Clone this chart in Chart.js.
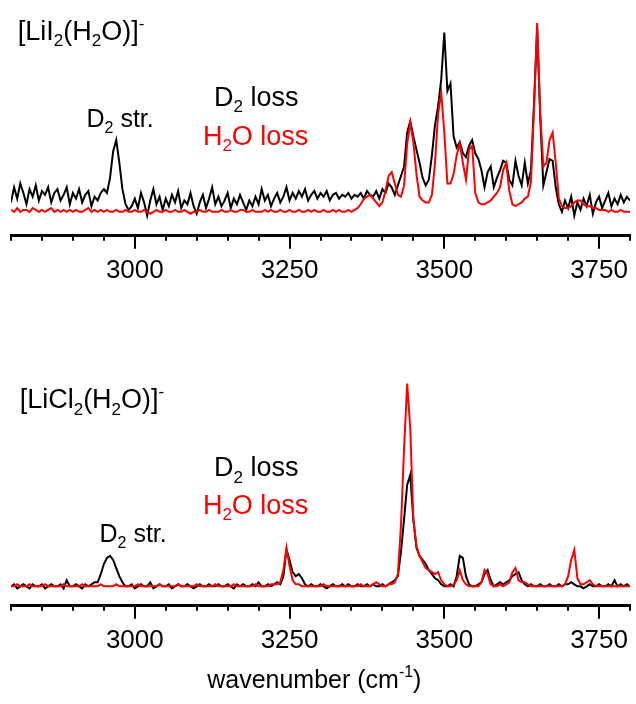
<!DOCTYPE html>
<html>
<head>
<meta charset="utf-8">
<script src="https://cdn.jsdelivr.net/npm/chart.js@4"></script>
<style>
html, body { margin: 0; padding: 0; background: #fff; }
#wrap { position: relative; width: 636px; height: 704px; }
.panel { position: absolute; left: 0; width: 636px; }
#top { top: 0; height: 300px; }
#bottom { top: 300px; height: 404px; }
</style>
</head>
<body>
<div id="wrap">
  <div class="panel" id="top"><canvas id="lii2"></canvas></div>
  <div class="panel" id="bottom"><canvas id="licl2"></canvas></div>
</div>
<script>
// spectra sampled every 5 cm-1 from 2800 to 3800
var waveMin = 2800;
var waveMax = 3800;
var waveStep = 5;
var tickStep = 50;
var labelStep = 250;

// [LiI2(H2O)]- , D2 loss channel
var liiD2Loss = [
  0.05, 0.13, 0.07, 0.15, 0.10, 0.04, 0.12, 0.08, 0.14, 0.06,
  0.11, 0.09, 0.13, 0.05, 0.10, 0.12, 0.06, 0.09, 0.13, 0.04,
  0.10, 0.07, 0.12, 0.05, 0.09, 0.11, 0.03, 0.08, 0.06, 0.10,
  0.12, 0.10, 0.18, 0.32, 0.38, 0.26, 0.12, 0.04, 0.01, 0.03,
  0.07, 0.02, 0.10, 0.05, -0.02, 0.06, 0.12, 0.04, 0.08, 0.01,
  0.07, 0.03, 0.09, 0.05, 0.11, 0.02, 0.06, 0.04, 0.10, 0.03,
  -0.01, 0.05, 0.09, 0.02, 0.07, 0.13, 0.04, 0.08, 0.03, 0.06,
  0.10, 0.02, 0.07, 0.04, 0.09, 0.05, 0.01, 0.06, 0.03, 0.08,
  0.04, 0.12, 0.06, 0.09, 0.03, 0.07, 0.10, 0.05, 0.08, 0.13,
  0.06, 0.10, 0.07, 0.11, 0.08, 0.12, 0.06, 0.09, 0.11, 0.07,
  0.10, 0.08, 0.11, 0.06, 0.09, 0.10, 0.07, 0.09, 0.08, 0.10,
  0.07, 0.09, 0.08, 0.10, 0.07, 0.11, 0.09, 0.08, 0.11, 0.07,
  0.12, 0.10, 0.15, 0.13, 0.09, 0.14, 0.19, 0.24, 0.42, 0.48,
  0.40, 0.33, 0.26, 0.18, 0.14, 0.17, 0.30, 0.46, 0.56, 0.70,
  0.95, 0.64, 0.68, 0.40, 0.34, 0.37, 0.31, 0.29, 0.35, 0.38,
  0.31, 0.28, 0.22, 0.13, 0.21, 0.24, 0.13, 0.18, 0.22, 0.27,
  0.26, 0.17, 0.14, 0.27, 0.19, 0.14, 0.26, 0.15, 0.22, 0.58,
  0.97, 0.50, 0.14, 0.21, 0.28, 0.27, 0.13, 0.04, 0.00, 0.06,
  0.02, 0.08, -0.02, 0.05, 0.01, 0.07, 0.03, 0.09, -0.01, 0.05,
  0.08, 0.02, 0.06, 0.10, 0.03, 0.07, 0.04, 0.09, 0.05, 0.08,
  0.06
];

// [LiI2(H2O)]- , H2O loss channel
var liiH2OLoss = [
  0.01, 0.00, 0.02, 0.00, 0.01, 0.01, 0.00, 0.02, 0.01, 0.00,
  0.01, 0.00, 0.01, 0.02, 0.00, 0.01, 0.00, 0.01, 0.00, 0.01,
  0.00, 0.01, 0.00, 0.00, 0.01, 0.02, 0.00, 0.01, 0.00, 0.01,
  0.00, 0.01, 0.00, 0.00, 0.01, 0.00, 0.00, 0.01, 0.00, 0.00,
  0.01, 0.00, 0.00, 0.01, 0.00, -0.01, 0.00, 0.01, 0.00, 0.00,
  0.01, 0.00, 0.00, 0.01, 0.00, 0.00, 0.01, 0.00, -0.01, 0.00,
  0.00, 0.01, 0.00, 0.00, 0.01, 0.00, 0.00, 0.00, 0.01, 0.00,
  0.00, 0.01, 0.00, 0.00, 0.01, 0.01, 0.00, 0.00, 0.01, 0.00,
  0.00, 0.00, 0.01, 0.00, 0.01, 0.00, 0.00, 0.01, 0.00, 0.00,
  0.01, 0.00, 0.00, 0.01, 0.00, 0.00, 0.01, 0.00, 0.01, 0.00,
  0.00, 0.01, 0.00, 0.00, 0.01, 0.00, 0.01, 0.00, 0.00, 0.01,
  0.00, 0.01, 0.02, 0.04, 0.07, 0.08, 0.09, 0.07, 0.05, 0.03,
  0.05, 0.11, 0.19, 0.21, 0.15, 0.09, 0.08, 0.14, 0.36, 0.47,
  0.37, 0.20, 0.08, 0.06, 0.05, 0.05, 0.09, 0.26, 0.52, 0.63,
  0.42, 0.15, 0.15, 0.20, 0.30, 0.36, 0.26, 0.17, 0.33, 0.35,
  0.10, 0.05, 0.04, 0.04, 0.05, 0.06, 0.08, 0.10, 0.13, 0.22,
  0.26, 0.11, 0.04, 0.03, 0.04, 0.05, 0.07, 0.08, 0.16, 0.55,
  1.00, 0.52, 0.24, 0.26, 0.38, 0.42, 0.26, 0.07, 0.03, 0.02,
  0.02, 0.03, 0.05, 0.06, 0.06, 0.04, 0.03, 0.03, 0.02, 0.02,
  0.01, 0.01, 0.01, 0.00, 0.01, 0.00, 0.00, 0.01, 0.00, 0.00,
  0.00
];

// [LiCl2(H2O)]- , D2 loss channel
var liclD2Loss = [
  0.00, 0.01, -0.01, 0.00, 0.01, 0.00, -0.01, 0.01, 0.00, 0.00,
  0.01, -0.01, 0.00, 0.01, 0.00, 0.00, 0.01, -0.01, 0.03, 0.00,
  0.00, 0.01, 0.00, -0.01, 0.01, 0.00, 0.01, 0.02,
  0.02, 0.06, 0.11, 0.14, 0.15, 0.13, 0.09, 0.05, 0.02, 0.00,
  0.00, 0.01, -0.01, 0.00, 0.01, 0.00, 0.00, 0.02, -0.01, 0.00,
  0.01, 0.00, 0.00, 0.01, -0.01, 0.00, 0.01, 0.00, 0.00, 0.01,
  0.00, -0.01, 0.00, 0.01, 0.00, 0.00, 0.01, 0.00, 0.00, 0.01,
  0.00, 0.00, 0.01, 0.00, -0.01, 0.01, 0.00, 0.01, 0.00, 0.00,
  0.01, 0.00, 0.02, 0.00, 0.00, 0.01, 0.00, 0.01, 0.02,
  0.01, 0.05, 0.18, 0.13, 0.07, 0.05, 0.06, 0.04, 0.01, 0.00, 0.01, 0.00,
  0.00, 0.01, 0.00, -0.01, 0.00, 0.01, 0.00, 0.00, 0.01, 0.00,
  0.01, 0.00, 0.00, 0.01, 0.00, 0.00, 0.01, 0.00, 0.01, 0.00,
  0.00, 0.01, 0.00, 0.01, 0.02,
  0.03, 0.05, 0.17, 0.33, 0.50, 0.55, 0.33, 0.19, 0.15, 0.13,
  0.11, 0.08, 0.06, 0.04, 0.03, 0.01, 0.00,
  0.00, 0.01, 0.00, 0.05, 0.15, 0.14, 0.05, 0.01, 0.00, 0.00,
  0.01, 0.02, 0.06, 0.08, 0.03, 0.00, 0.01, 0.02, 0.01, 0.02,
  0.03, 0.05, 0.06, 0.07, 0.03, 0.01, 0.00, 0.01, 0.00, 0.00,
  0.01, 0.00, 0.00, 0.01, 0.00, 0.00, 0.01, 0.00, 0.01, 0.01,
  0.02, 0.01, 0.00, 0.00, -0.01, 0.00, 0.01, 0.00, 0.00, 0.01,
  0.00, 0.00, 0.01, 0.00, 0.03, 0.00, 0.01, 0.00, 0.01, 0.00
];

// [LiCl2(H2O)]- , H2O loss channel
var liclH2OLoss = [
  0.00, 0.00, 0.01, 0.00, 0.00, 0.00, 0.01, 0.00, 0.00, 0.00,
  0.00, 0.01, 0.00, 0.00, 0.00, 0.00, 0.00, 0.01, 0.00, 0.00,
  0.00, 0.00, 0.00, 0.01, 0.00, 0.00, 0.00, 0.00, 0.00, 0.01,
  0.00, 0.00, 0.00, 0.00, 0.01, 0.00, 0.00, 0.00, 0.00, 0.00,
  0.00, 0.01, 0.00, 0.00, 0.00, 0.00, 0.00, 0.00, 0.01, 0.00,
  0.00, 0.00, 0.00, 0.00, 0.01, 0.00, 0.00, 0.00, 0.00, 0.00,
  0.01, 0.00, 0.00, 0.00, 0.00, 0.00, 0.01, 0.00, 0.00, 0.00,
  0.00, 0.00, 0.01, 0.00, 0.00, 0.00, 0.00, 0.00, 0.00, 0.01,
  0.00, 0.00, 0.00, 0.00, 0.01, 0.01,
  0.01, 0.02, 0.08, 0.19, 0.10, 0.03, 0.01, 0.01, 0.00, 0.00, 0.00, 0.00, 0.00,
  0.00, 0.00, 0.01, 0.00, 0.00, 0.00, 0.00, 0.00, 0.00, 0.00,
  0.00, 0.00, 0.00, 0.00, 0.01, 0.00, 0.00, 0.00, 0.01, 0.02,
  0.01, 0.00, 0.00, 0.01,
  0.01, 0.02, 0.06, 0.30, 0.68, 1.00, 0.78, 0.33, 0.20, 0.15,
  0.12, 0.09, 0.08, 0.07, 0.06, 0.07, 0.03, 0.01,
  0.00, 0.00, 0.01, 0.03, 0.08, 0.03, 0.01, 0.00, 0.00, 0.00,
  0.00, 0.02, 0.08, 0.06, 0.01, 0.00, 0.00, 0.01, 0.00, 0.01,
  0.02, 0.07, 0.09, 0.03, 0.02, 0.02, 0.01, 0.00, 0.00, 0.00,
  0.00, 0.00, 0.00, 0.00, 0.00, 0.00, 0.00, 0.00, 0.01, 0.05,
  0.13, 0.18, 0.04, 0.01, 0.01, 0.02, 0.03, 0.01, 0.00, 0.00,
  0.00, 0.00, 0.00, 0.00, 0.00, 0.00, 0.00, 0.00, 0.00, 0.00
];

var fontFamily = '"Liberation Sans", Arial, sans-serif';
Chart.defaults.font.family = fontFamily;

function toPoints(values) {
  return values.map(function (v, i) {
    return { x: waveMin + i * waveStep, y: v };
  });
}

// text with sub/superscript runs: parts = [[text, 'sub'|'sup'|undefined], ...]
function drawRich(ctx, parts, x, y, size, color, align) {
  var small = Math.round(size * 0.64);
  var total = 0;
  ctx.save();
  ctx.fillStyle = color;
  ctx.textBaseline = "alphabetic";
  ctx.textAlign = "left";
  parts.forEach(function (p) {
    ctx.font = (p[1] ? small : size) + "px " + fontFamily;
    total += ctx.measureText(p[0]).width;
  });
  var cx = align === "center" ? x - total / 2 : x;
  parts.forEach(function (p) {
    ctx.font = (p[1] ? small : size) + "px " + fontFamily;
    var dy = p[1] === "sub" ? size * 0.24 : p[1] === "sup" ? -size * 0.42 : 0;
    ctx.fillText(p[0], cx, y + dy);
    cx += ctx.measureText(p[0]).width;
  });
  ctx.restore();
}

// long ticks on the labelled values, short ticks every 50 cm-1
var axisTicks = {
  id: "axisTicks",
  afterDraw: function (chart) {
    var sx = chart.scales.x;
    var y0 = chart.chartArea.bottom;
    var ctx = chart.ctx;
    ctx.save();
    ctx.strokeStyle = "#000";
    ctx.lineWidth = 2;
    sx.ticks.forEach(function (t) {
      var px = Math.round(sx.getPixelForValue(t.value));
      var len = t.value % labelStep === 0 ? 13 : 5;
      ctx.beginPath();
      ctx.moveTo(px, y0);
      ctx.lineTo(px, y0 + len);
      ctx.stroke();
    });
    ctx.restore();
  }
};

function textLayer(items) {
  return {
    id: "textLayer",
    afterDatasetsDraw: function (chart) {
      var sx = chart.scales.x, sy = chart.scales.y;
      items.forEach(function (it) {
        var px = sx.getPixelForValue(it.x);
        var py = it.below !== undefined ? chart.chartArea.bottom + it.below : sy.getPixelForValue(it.y);
        drawRich(chart.ctx, it.parts, px, py, it.size, it.color, it.align);
      });
    }
  };
}

function makeChart(id, d2Values, h2oValues, yMin, yMax, padTop, padBottom, items) {
  return new Chart(document.getElementById(id), {
    type: "line",
    data: {
      datasets: [{
        label: "H2O loss",
        data: toPoints(h2oValues),
        borderColor: "#ff0000",
        borderWidth: 2,
        order: 0
      }, {
        label: "D2 loss",
        data: toPoints(d2Values),
        borderColor: "#000000",
        borderWidth: 2,
        order: 1
      }]
    },
    options: {
      animation: false,
      responsive: true,
      maintainAspectRatio: false,
      layout: { padding: { left: 11, right: 3, top: padTop, bottom: padBottom } },
      elements: { point: { radius: 0 }, line: { tension: 0 } },
      plugins: { legend: { display: false }, tooltip: { enabled: false } },
      scales: {
        x: {
          type: "linear",
          min: waveMin,
          max: waveMax,
          border: { display: true, color: "#000", width: 3 },
          grid: { display: true, drawOnChartArea: false, drawTicks: true, tickLength: 13, color: "rgba(0,0,0,0)" },
          ticks: {
            stepSize: tickStep,
            autoSkip: false,
            maxRotation: 0,
            minRotation: 0,
            padding: 6,
            color: "#000",
            font: { size: 26 },
            callback: function (v) {
              return v % labelStep === 0 ? String(v) : "";
            }
          }
        },
        y: { display: false, min: yMin, max: yMax }
      }
    },
    plugins: [axisTicks, textLayer(items)]
  });
}

makeChart("lii2", liiD2Loss, liiH2OLoss, -0.127, 1.069, 10, 8, [
  { parts: [["[LiI"], ["2", "sub"], ["(H"], ["2", "sub"], ["O)]"], ["-", "sup"]], x: 2811, y: 0.91, size: 27, color: "#000" },
  { parts: [["D"], ["2", "sub"], [" loss"]], x: 3128, y: 0.561, size: 27, color: "#000" },
  { parts: [["H"], ["2", "sub"], ["O loss"]], x: 3110, y: 0.354, size: 27, color: "#ff0000" },
  { parts: [["D"], ["2", "sub"], [" str."]], x: 2922, y: 0.45, size: 25, color: "#000" }
]);

makeChart("licl2", liclD2Loss, liclH2OLoss, -0.096, 1.067, 70, 42, [
  { parts: [["[LiCl"], ["2", "sub"], ["(H"], ["2", "sub"], ["O)]"], ["-", "sup"]], x: 2814, y: 0.879, size: 27, color: "#000" },
  { parts: [["D"], ["2", "sub"], [" loss"]], x: 3128, y: 0.544, size: 27, color: "#000" },
  { parts: [["H"], ["2", "sub"], ["O loss"]], x: 3110, y: 0.357, size: 27, color: "#ff0000" },
  { parts: [["D"], ["2", "sub"], [" str."]], x: 2943, y: 0.219, size: 25, color: "#000" },
  { parts: [["wavenumber (cm"], ["-1", "sup"], [")"]], x: 3290, below: 82, size: 25, color: "#000", align: "center" }
]);
</script>
</body>
</html>
